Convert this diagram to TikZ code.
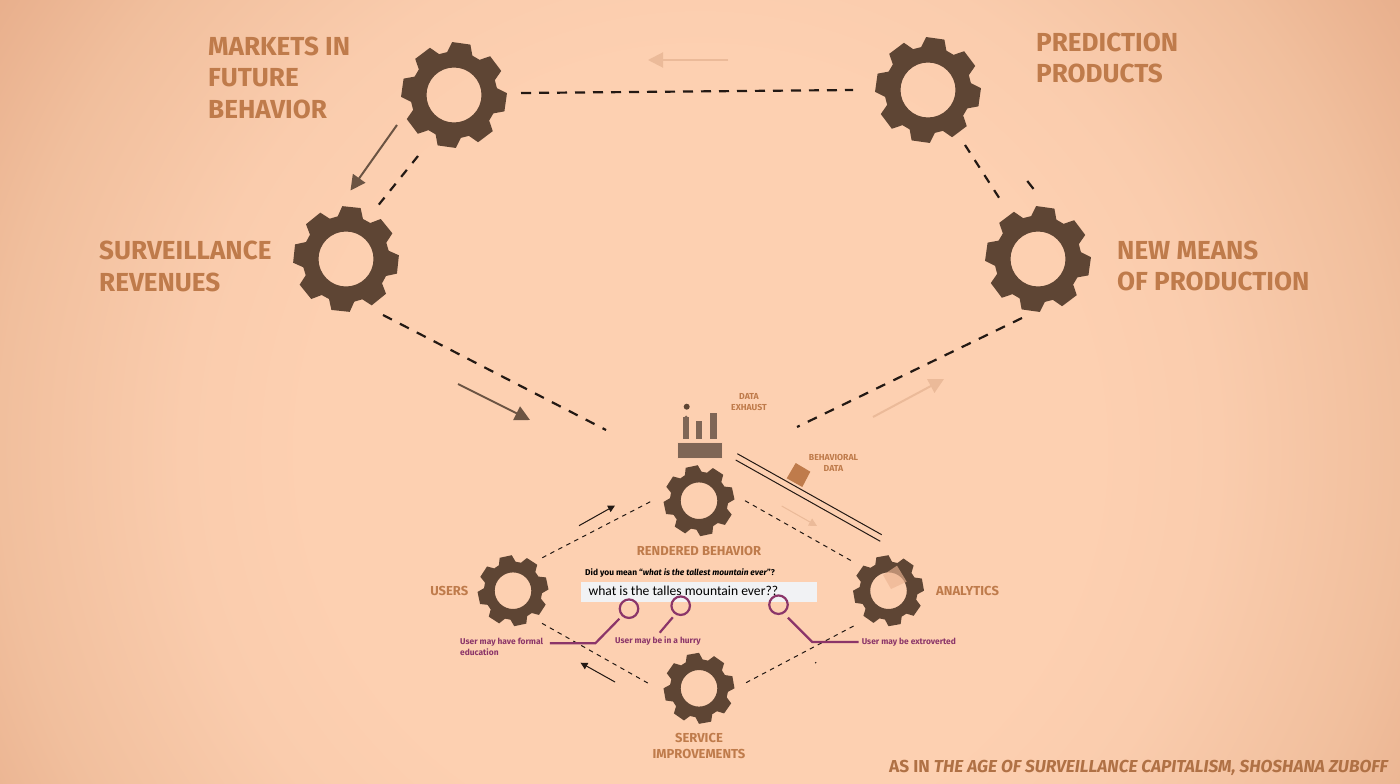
\documentclass[tikz,border=0pt]{standalone}
\usepackage{fontspec}
\setmainfont{Fira Sans}
\newfontfamily\plainfont{Carlito}
\usetikzlibrary{arrows.meta}
\definecolor{bgA}{RGB}{253,208,177}
\definecolor{bgB}{RGB}{250,204,173}
\definecolor{bgC}{RGB}{241,191,157}
\definecolor{bgD}{RGB}{231,173,138}
\definecolor{gearc}{RGB}{94,69,52}
\definecolor{labelc}{RGB}{191,123,75}
\definecolor{magc}{RGB}{139,53,105}
\definecolor{inkc}{RGB}{35,25,20}
\definecolor{arrowc}{RGB}{107,84,67}
\definecolor{palec}{RGB}{235,186,153}
\definecolor{factc}{RGB}{127,102,86}
\definecolor{boxc}{RGB}{241,242,244}
\definecolor{overc}{RGB}{236,180,146}
\pgfdeclareradialshading{bgshade}{\pgfpoint{0bp}{0bp}}{color(0bp)=(bgA); color(14bp)=(bgA); color(18.5bp)=(bgB); color(25bp)=(bgC); color(30.5bp)=(bgD); color(50bp)=(bgD)}
\tikzset{
  heavydash/.style={draw=inkc,line width=2.2pt,dash pattern=on 10pt off 8pt},
  thindash/.style={draw=inkc,line width=1pt,dash pattern=on 4.5pt off 4.5pt},
  bigarrow/.style={draw=#1,fill=#1,line width=2pt,-{Triangle[length=15pt,width=15pt]}},
  smallarrow/.style={draw=inkc,fill=inkc,line width=1pt,-{Triangle[length=7pt,width=7pt]}},
  biglabel/.style={anchor=west,inner sep=0pt,align=left,text=labelc,font=\bfseries\fontsize{26.1}{31.5}\selectfont},
  midlabel/.style={inner sep=0pt,align=center,text=labelc,font=\bfseries\fontsize{13}{16}\selectfont},
  tinylabel/.style={inner sep=0pt,align=center,text=labelc,font=\bfseries\fontsize{8.7}{10.5}\selectfont},
  maglabel/.style={anchor=west,inner sep=0pt,align=left,text=magc,font=\bfseries\fontsize{8.4}{11}\selectfont},
  magline/.style={draw=magc,line width=2.2pt},
  magring/.style={draw=magc,line width=2.2pt,circle,minimum size=18.5pt,inner sep=0pt},
}
% name, x, y, outer radius, inner radius, rotation
\newcommand{\gearshape}[6]{%
  \node[coordinate] (#1) at (#2,#3) {};
  \pgfmathsetmacro{\rr}{#4*0.82}
  \fill[gearc,even odd rule,shift={(#2,#3)}]
    (-90+#6-17:\rr)
    \foreach \k in {0,...,7}{%
      -- (-90+#6+45*\k-17:\rr) -- (-90+#6+45*\k-10:#4) -- (-90+#6+45*\k+10:#4) -- (-90+#6+45*\k+17:\rr)
    } -- cycle
    (0,0) circle[radius=#5];
}
\begin{document}
\begin{tikzpicture}[x=1pt,y=-1pt]
\useasboundingbox (0,0) rectangle (1400,784);
\begin{scope}
\clip (0,0) rectangle (1400,784);
\shade[shading=bgshade] (0,-250) rectangle (1400,1150);
\end{scope}

\gearshape{gA}{454}{95}{53}{27.5}{8}
\gearshape{gB}{928}{90}{53}{27.5}{8}
\gearshape{gC}{346}{259}{53}{27.5}{6}
\gearshape{gD}{1038}{259}{53}{27.5}{8}
\gearshape{gE}{699}{500.7}{35.5}{18.3}{-12}
\gearshape{gF}{513}{590.7}{35.5}{18.3}{-12}
\gearshape{gG}{888.5}{590.7}{35.5}{18.3}{-10}
\gearshape{gH}{699}{688.3}{35.5}{18.3}{-10}

% factory
\node[coordinate] (fact) at (700,450) {};
\fill[factc,draw=bgB,line width=.5pt] (677.3,442) rectangle (722.7,458.7);
\fill[factc] (683,417) rectangle (689.3,438.7);
\fill[factc] (686.1,417) circle[radius=1.6];
\fill[factc] (696.3,420.7) rectangle (702.3,438.7);
\fill[factc] (710.3,413.3) rectangle (717,438.7);
\fill[gearc] (686.7,406.7) circle[radius=3];

% dashed links
\draw[heavydash] ([shift={(67,-2)}]gA.center) -- ([shift={(-75,0)}]gB.center);
\draw[heavydash,dash pattern=on 9pt off 8.8pt] ([shift={(-36,61)}]gA.center) -- ([shift={(32.5,-54)}]gC.center);
\draw[heavydash,dash pattern=on 9pt off 8.9pt] ([shift={(37,55)}]gB.center) -- ([shift={(-39,-61.3)}]gD.center);
\draw[heavydash] ([shift={(-10.7,-78)}]gD.center) -- ([shift={(-2.3,-67.3)}]gD.center);
\draw[heavydash,dash pattern=on 10pt off 9pt] ([shift={(-16,59)}]gD.center) -- ([shift={(97,-23)}]fact.center);
\draw[heavydash,dash pattern=on 10pt off 9pt] ([shift={(37,56)}]gC.center) -- ([shift={(-94,-20)}]fact.center);

\draw[thindash] ([shift={(29.3,-33)}]gF.center) -- ([shift={(-46.7,0)}]gE.center);
\draw[thindash] ([shift={(46,0)}]gE.center) -- ([shift={(-35.5,-29)}]gG.center);
\draw[thindash] ([shift={(29,32.6)}]gF.center) -- ([shift={(-49,-4)}]gH.center);
\draw[thindash] ([shift={(-34.9,35.3)}]gG.center) -- ([shift={(44,-4)}]gH.center);
\fill[inkc] ([shift={(116.7,-25.6)}]gH.center) circle[radius=.8];

% flow arrows
\coordinate (a1s) at (728,60); \coordinate (a1e) at (648,60);
\draw[bigarrow=palec] (a1s) -- (a1e);
\coordinate (a2s) at (397,125); \coordinate (a2e) at (350.5,190.5);
\draw[bigarrow=arrowc] (a2s) -- (a2e);
\coordinate (a3s) at (458,384); \coordinate (a3e) at (530,420);
\draw[bigarrow=arrowc] (a3s) -- (a3e);
\coordinate (a4s) at (873,417); \coordinate (a4e) at (944,379);
\draw[bigarrow=palec] (a4s) -- (a4e);
\coordinate (a5s) at (579,525.7); \coordinate (a5e) at (615,505.5);
\draw[smallarrow] (a5s) -- (a5e);
\coordinate (a6s) at (615,682); \coordinate (a6e) at (580.5,662.7);
\draw[smallarrow] (a6s) -- (a6e);
\coordinate (a7s) at (781.7,506); \coordinate (a7e) at (817,526);
\draw[draw=palec,fill=palec,line width=1pt,-{Triangle[length=8pt,width=8pt]}] (a7s) -- (a7e);

% behavioral data pipe
\coordinate (p1s) at (737.3,453.7); \coordinate (p1e) at (881.7,534.7);
\coordinate (p2s) at (735.7,460); \coordinate (p2e) at (880.3,541.3);
\draw[inkc,line width=1pt] (p1s) -- (p1e);
\draw[inkc,line width=1pt] (p2s) -- (p2e);
\fill[labelc] (795.7,463) -- (810.3,471.7) -- (802.3,487) -- (786.7,478.3) -- cycle;
\fill[overc,opacity=.65] (883,575) -- (897,565.7) -- (906.7,581.7) -- (891,589) -- cycle;

% search box
\node[anchor=north west,fill=boxc,minimum width=236.5pt,minimum height=20pt,inner sep=0pt] (box) at (580.5,581.3) {};
\node[anchor=west,inner sep=0pt,text=black,font=\plainfont\fontsize{13.6}{15}\selectfont] (query) at (588.4,591) {what is the talles mountain ever??};
\node[anchor=west,inner sep=0pt,text=black,font=\bfseries\fontsize{8.4}{11}\selectfont] (hint) at (585,572.7) {Did you mean “\textit{what is the tallest mountain ever}”?};

% rings and leaders
\node[magring] (r1) at (629,608.7) {};
\node[magring] (r2) at (680.7,605.7) {};
\node[magring] (r3) at (778.5,604.7) {};
\node[maglabel] (l1) at (460,647) {User may have formal\\education};
\node[maglabel] (l2) at (615,641) {User may be in a hurry};
\node[maglabel] (l3) at (861.6,642) {User may be extroverted};
\draw[magline] ([shift={(-9.6,10)}]r1.center) -- ([shift={(-33.7,34.6)}]r1.center) -- ([shift={(-79.2,34.6)}]r1.center);
\draw[magline] ([shift={(-7.9,11.6)}]r2.center) -- ([shift={(-21,27)}]r2.center);
\draw[magline] ([shift={(9.5,13)}]r3.center) -- ([shift={(33.7,37.3)}]r3.center) -- ([shift={(80.2,37.3)}]r3.center);

% labels
\node[biglabel] (t1) at (208,77.5) {MARKETS IN\\FUTURE\\BEHAVIOR};
\node[biglabel] (t2) at (1036,58) {PREDICTION\\PRODUCTS};
\node[biglabel] (t3) at (99,266.5) {SURVEILLANCE\\REVENUES};
\node[biglabel] (t4) at (1117,266) {NEW MEANS\\OF PRODUCTION};
\node[midlabel,anchor=east] (t5) at (468.5,591) {USERS};
\node[midlabel,anchor=west] (t6) at (936,591) {ANALYTICS};
\node[midlabel] (t7) at (699,551) {RENDERED BEHAVIOR};
\node[midlabel] (t8) at (699,746) {SERVICE\\IMPROVEMENTS};
\node[tinylabel] (t9) at (749,402) {DATA\\EXHAUST};
\node[tinylabel] (t10) at (833.5,463) {BEHAVIORAL\\DATA};
\node[anchor=base east,inner sep=0pt,text=labelc!92!black,font=\bfseries\fontsize{17.3}{20}\selectfont] (t11) at (1389,772.7) {AS IN \textit{THE AGE OF SURVEILLANCE CAPITALISM, SHOSHANA ZUBOFF}};
\end{tikzpicture}
\end{document}
